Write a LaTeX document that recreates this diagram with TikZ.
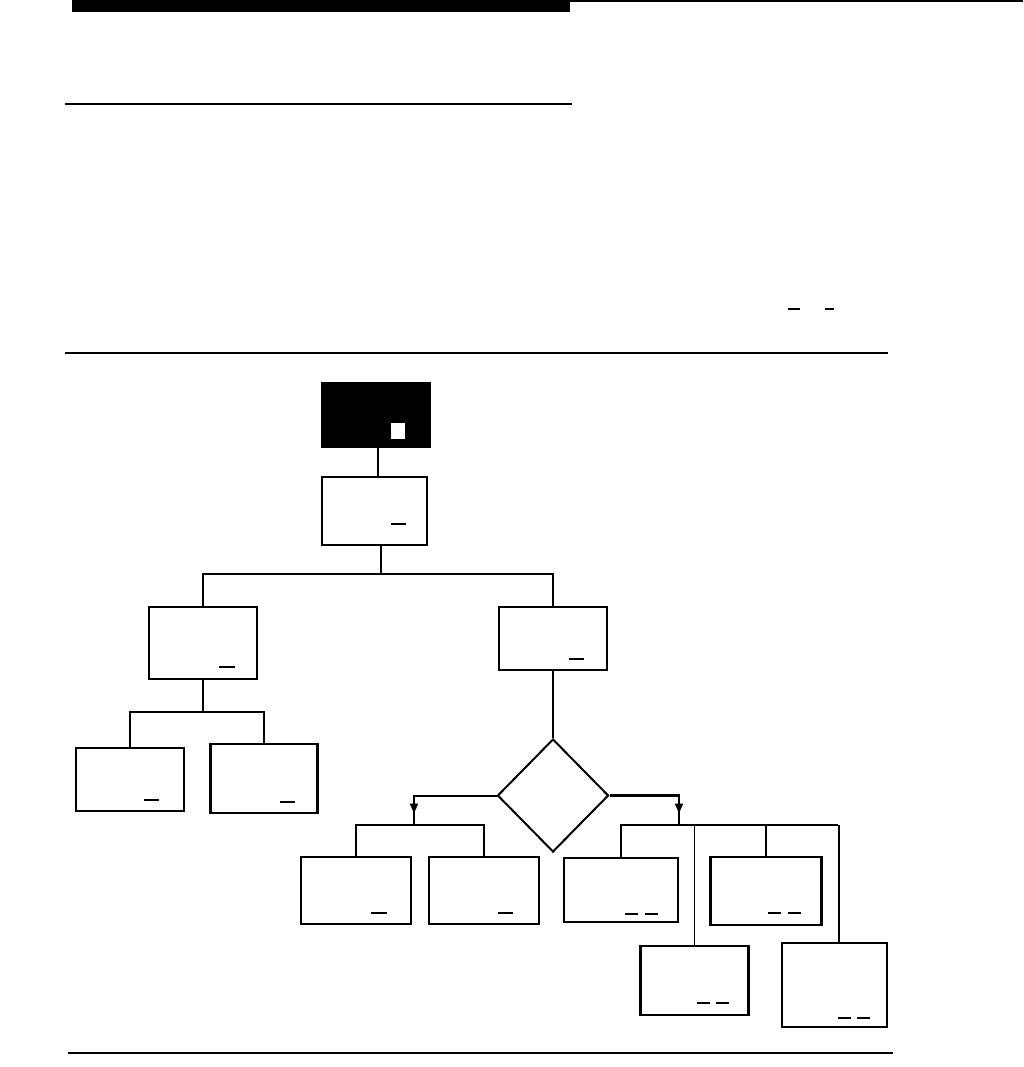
\documentclass[tikz,border=0pt]{standalone}
\usetikzlibrary{shapes.geometric,arrows.meta}
\begin{document}
\begin{tikzpicture}[x=1pt,y=-1pt,
  box/.style={draw=black,line width=2.4pt,inner sep=0pt,fill=white},
  blackbox/.style={draw=black,fill=black,inner sep=0pt},
  conn/.style={line width=2pt},
  thinconn/.style={line width=1.1pt},
  tick/.style={line width=1.3pt},
  arr/.style={-{Triangle[length=10pt,width=8pt]},line width=2pt}]
\useasboundingbox (0,0) rectangle (1023,1067);
% page rules
\fill[black] (72,0) rectangle (570,12);
\draw[line width=1.5pt] (570,1) -- (1023,1);
\draw[line width=2.2pt] (65,104) -- (572,104);
\draw[line width=2pt] (65,353) -- (888,353);
\draw[line width=2pt] (68,1053) -- (893,1053);
\draw[tick] (788,309) -- (800,309);
\draw[tick] (825,309) -- (834,309);
% nodes
\node[blackbox,minimum width=109pt,minimum height=65pt] (top) at (375.5,414.5) {};
\node[fill=white,inner sep=0pt,minimum width=14pt,minimum height=16pt] (sq) at (398,431) {};
\node[box,minimum width=105pt,minimum height=68pt] (b2) at (374.5,511) {};
\node[box,minimum width=108pt,minimum height=72pt] (bL) at (203,643) {};
\node[box,minimum width=108pt,minimum height=63pt] (bR) at (553,638.5) {};
\node[box,minimum width=108pt,minimum height=63pt] (LL) at (130,779.5) {};
\node[box,minimum width=107pt,minimum height=69pt] (LR) at (264,778.5) {};
\node[draw,diamond,line width=2pt,inner sep=0pt,minimum width=111pt,minimum height=113pt] (dia) at (553,795.5) {};
\node[box,minimum width=110pt,minimum height=67pt] (A) at (356,890.5) {};
\node[box,minimum width=110pt,minimum height=67pt] (B) at (484,890.5) {};
\node[box,minimum width=114pt,minimum height=64pt] (C) at (621,890) {};
\node[box,minimum width=111pt,minimum height=68pt] (D) at (766,891) {};
\node[box,minimum width=108pt,minimum height=69pt] (E) at (694.5,980.5) {};
\node[box,minimum width=105pt,minimum height=84pt] (F) at (834.5,985) {};
% junctions
\coordinate (c0) at (378,0);
\coordinate (j1) at (381,574);
\coordinate (j2) at (203,712);
\coordinate (j3) at (414,825);
\coordinate (j4) at (679,825);
\coordinate (jr) at (838,825);
% connectors
\draw[conn] (top.south -| c0) -- (b2.north -| c0);
\draw[line width=2.2pt] (b2.south -| j1) -- (j1);
\draw[conn] (bL.north) |- (j1) -| (bR.north);
\draw[thinconn] (bL.south) -- (j2);
\draw[conn] (LL.north) |- (j2) -| (LR.north);
\draw[conn] (bR.south) -- (dia.north);
\draw[conn] (dia.west) -| (j3);
\draw[arr] (dia.west -| j3) -- ++(0,18);
\draw[conn] (A.north) |- (j3) -| (B.north);
\draw[line width=2.8pt] (dia.east) -| (j4);
\draw[arr] (dia.east -| j4) -- ++(0,18);
\draw[conn] (C.north) |- (jr);
\draw[conn] (D.north) -- (D.north |- jr);
\draw[thinconn] (E.north) -- (E.north |- jr);
\draw[thinconn] ([xshift=4.5pt]F.north) -- ([xshift=4.5pt]F.north |- jr);
% underline marks in boxes
\draw[tick] (391,524) -- (406,524);
\draw[tick] (219,667) -- (235,667);
\draw[tick] (569,659) -- (584,659);
\draw[tick] (144,800) -- (159,800);
\draw[tick] (280,802) -- (295,802);
\draw[tick] (371,913) -- (387,913);
\draw[tick] (498,913) -- (513,913);
\draw[line width=2.2pt] (625,914) -- (638,914);
\draw[line width=2.2pt] (645,914) -- (658,914);
\draw[line width=2.2pt] (768,913) -- (781,913);
\draw[line width=2.2pt] (788,913) -- (801,913);
\draw[tick] (697,1003) -- (710,1003);
\draw[tick] (716,1003) -- (729,1003);
\draw[tick] (838,1018) -- (851,1018);
\draw[tick] (857,1018) -- (870,1018);
\end{tikzpicture}
\end{document}
